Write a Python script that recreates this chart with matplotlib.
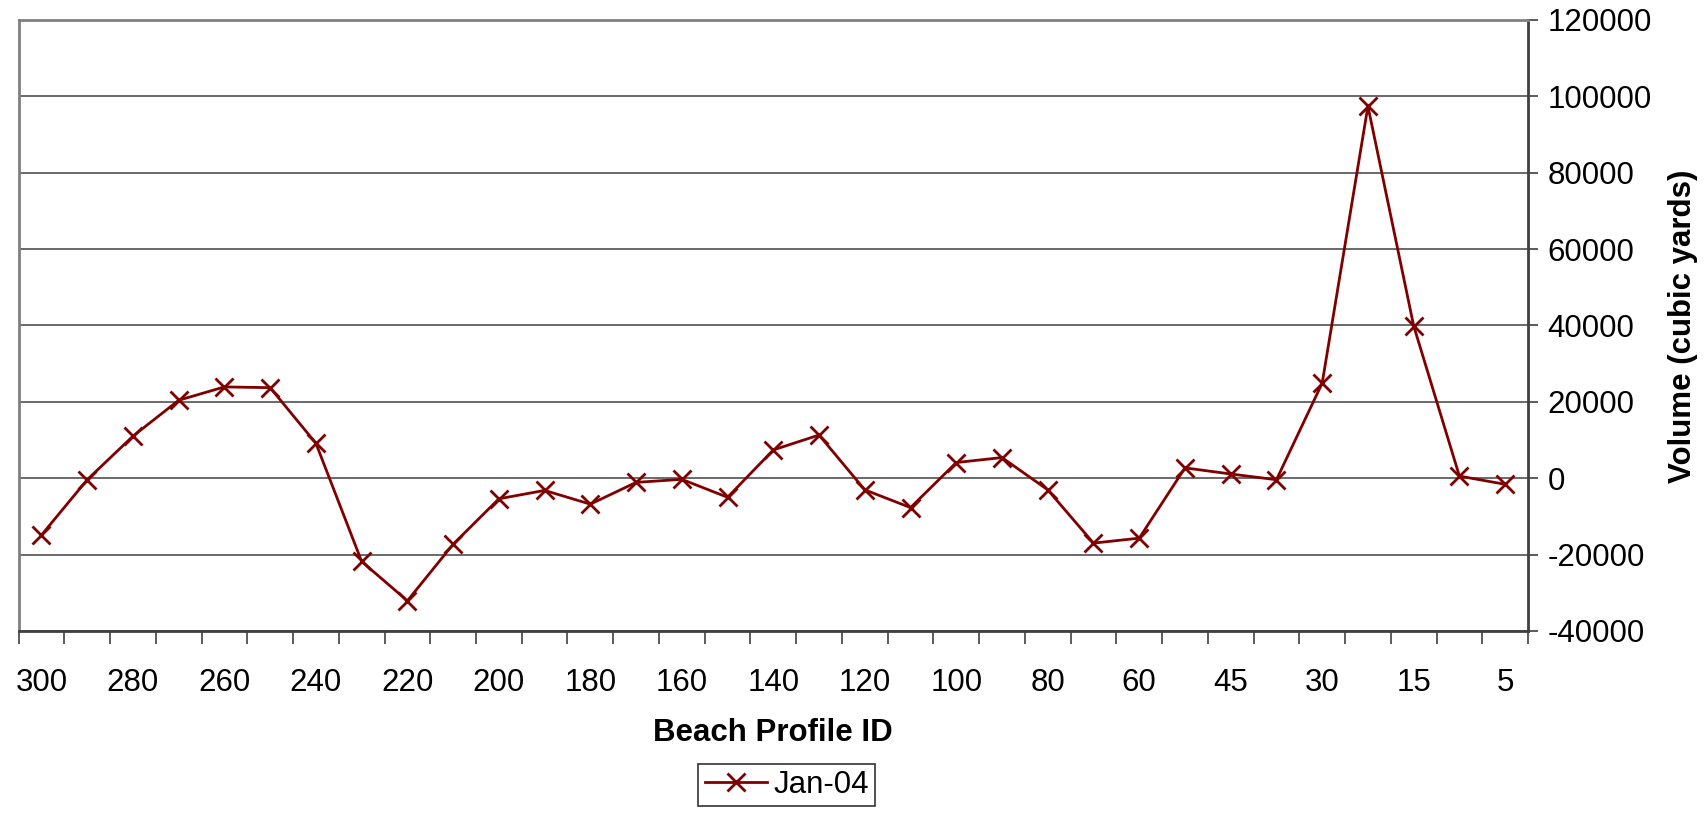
import matplotlib.pyplot as plt
from matplotlib.ticker import FixedLocator, NullFormatter

plt.rcParams['font.family'] = ['Liberation Sans', 'DejaVu Sans']
plt.rcParams['axes.unicode_minus'] = False

# Beach profile IDs (every other one is labelled on the axis)
profiles = ['300', '290', '280', '270', '260', '250', '240', '230', '220', '210',
            '200', '190', '180', '170', '160', '150', '140', '130', '120', '110',
            '100', '90', '80', '70', '60', '50', '45', '40', '30', '20',
            '15', '10', '5']
# Jan-04 volume change (cubic yards)
jan04 = [-14900, -400, 11000, 20400, 23900, 23700, 9150, -21800, -32100, -17300,
         -5400, -3200, -6800, -1100, -300, -5000, 7400, 11300, -3050, -7700,
         4100, 5400, -3050, -17000, -15700, 2700, 1100, -400, 24900, 97400,
         39900, 550, -1600]
yticks = [-40000, -20000, 0, 20000, 40000, 60000, 80000, 100000, 120000]

fig = plt.figure(figsize=(17.05, 8.17), dpi=100)
ax = fig.add_axes([0.0109, 0.2277, 0.8853, 0.748])

x = list(range(len(profiles)))
ax.plot(x, jan04, color='#800000', lw=2, marker='x', ms=13, mew=2,
        label='Jan-04', zorder=3)

ax.set_xlim(-0.5, len(profiles) - 0.5)
ax.set_ylim(yticks[0], yticks[-1])
ax.set_yticks(yticks)
ax.yaxis.tick_right()
ax.tick_params(axis='y', labelsize=22.5, length=7, width=1.2, color='#404040', pad=7)
ax.grid(axis='y', color='#505050', lw=1.2)
ax.set_axisbelow(True)

# labels at every other category, tick marks at category boundaries
ax.xaxis.set_major_locator(FixedLocator(x[::2]))
ax.set_xticklabels(profiles[::2])
ax.xaxis.set_minor_locator(FixedLocator([i - 0.5 for i in range(len(profiles) + 1)]))
ax.xaxis.set_minor_formatter(NullFormatter())
ax.tick_params(axis='x', which='major', length=0, labelsize=22.5, pad=27)
ax.tick_params(axis='x', which='minor', length=9, width=1.2, color='#404040')

for side in ['left', 'top']:
    ax.spines[side].set_color('#808080')
    ax.spines[side].set_linewidth(2)
for side in ['right', 'bottom']:
    ax.spines[side].set_color('#404040')
    ax.spines[side].set_linewidth(2)

ax.set_xlabel('Beach Profile ID', fontsize=22.5, fontweight='bold', labelpad=14)
fig.text(0.987, 0.601, 'Volume (cubic yards)', fontsize=22.5, fontweight='bold',
         rotation=90, ha='center', va='center')

leg = fig.legend(loc='center', bbox_to_anchor=(0.4615, 0.039), fontsize=22.5,
                 frameon=True, fancybox=False, edgecolor='black', handlelength=2.0,
                 borderpad=0.2, handletextpad=0.2)
leg.get_frame().set_linewidth(1.2)

fig.savefig('out.png', dpi=100)
